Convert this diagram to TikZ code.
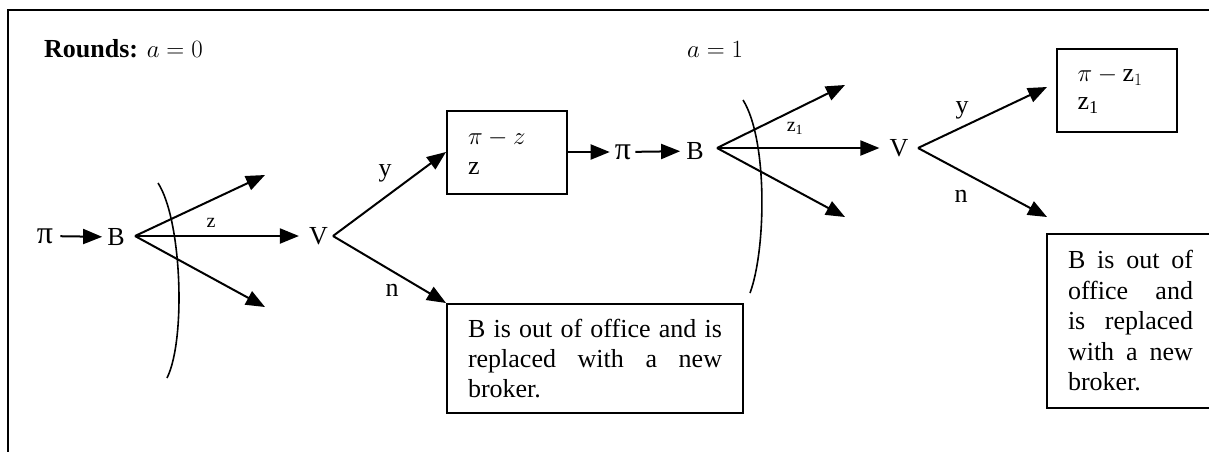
\documentclass[tikz,border=0pt]{standalone}
\usepackage{fontspec}
\setmainfont{Liberation Serif}
\usetikzlibrary{arrows.meta}
\hyphenpenalty=10000
\exhyphenpenalty=10000
\tolerance=10000
\hbadness=10000
\begin{document}
\begin{tikzpicture}[x=1pt,y=-1pt,
  every node/.style={font=\fontsize{26}{30}\selectfont},
  conn/.style={line width=2pt,-{Triangle[length=19pt,width=15pt]}},
  arcline/.style={line width=1.6pt},
  frameline/.style={line width=2.6pt},
  box/.style={draw,line width=2pt,inner xsep=21pt,inner ysep=0pt},
  sym/.style={inner sep=0pt},
  bigsym/.style={inner sep=0pt,font=\fontsize{32}{32}\selectfont},
  small/.style={font=\fontsize{20}{22}\selectfont,inner sep=0pt}]
\useasboundingbox (0,0) rectangle (1209,451);
\clip (0,0) rectangle (1209,451);
\draw[frameline] (8,452) -- (8,10) -- (1212,10);

% headings
\node[sym, anchor=base west] (rounds) at (44,57) {\textbf{Rounds:} $a = 0$};
\node[sym, anchor=base west] (round1) at (687,57) {$a = 1$};

% round a = 0
\node[bigsym] (pi1) at (45,236) {π};
\node[sym] (B1) at (116,237) {B};
\draw[conn, shorten <=7pt, shorten >=5pt] (pi1) -- (B1);
\coordinate (b1v) at (135,236);
\coordinate (b1up) at (265,175);
\coordinate (b1dn) at (265,307);
\node[sym] (V1) at (318.5,236) {V};
\draw[conn] (b1v) -- (b1up);
\draw[conn] (b1v) -- (b1dn);
\draw[conn, shorten >=10pt] (b1v) -- (V1.west);
\node[small] (zlab) at (211,223) {z};
\draw[arcline] (158,183) .. controls (182,220) and (186,340) .. (167,378);

\coordinate (v1v) at (333,236);
\node[box, text width=78pt, minimum height=83pt, align=left] (box1) at (507,152) {$\pi - z$\\z};
\node[box, text width=254pt, minimum height=109pt, align=justify] (box2) at (595,358.5)
  {B is out of office and is\linebreak replaced with a new\linebreak broker.};
\draw[conn] (v1v) -- (box1.west);
\draw[conn] (v1v) -- (box2.north west);
\node[sym] (ylab1) at (385,173) {y};
\node[sym] (nlab1) at (392,290) {n};

% round a = 1
\node[bigsym] (pi2) at (623,152) {π};
\draw[conn, shorten >=5pt] (box1.east) -- (pi2);
\node[sym] (B2) at (695,151) {B};
\draw[conn, shorten <=4pt, shorten >=6pt] (pi2) -- (B2);
\coordinate (b2v) at (717,148);
\coordinate (b2up) at (845,85);
\coordinate (b2dn) at (845,217);
\node[sym] (V2) at (899,148) {V};
\draw[conn] (b2v) -- (b2up);
\draw[conn] (b2v) -- (b2dn);
\draw[conn, shorten >=10pt] (b2v) -- (V2.west);
\node[small] (z1lab) at (795,128) {z\textsubscript{1}};
\draw[arcline] (743,100) .. controls (768,140) and (766,250) .. (750,293);

\coordinate (v2v) at (918,148);
\coordinate (v2up) at (1047,87);
\coordinate (v2dn) at (1047,217);
\draw[conn] (v2v) -- (v2up);
\draw[conn] (v2v) -- (v2dn);
\node[sym] (ylab2) at (962,110) {y};
\node[sym] (nlab2) at (961,196) {n};

\node[box, text width=78pt, minimum height=83pt, align=left,
  font=\fontsize{26}{28}\selectfont] (box3) at (1116.5,90.5)
  {$\pi - \mbox{z}_1$\\z\textsubscript{1}};
\node[box, text width=125pt, minimum height=174pt, align=justify,
  font=\fontsize{26}{30.5}\selectfont] (box4) at (1130.5,321)
  {B is out of\linebreak office and\linebreak is replaced\linebreak with a new\linebreak broker.};
\end{tikzpicture}
\end{document}
